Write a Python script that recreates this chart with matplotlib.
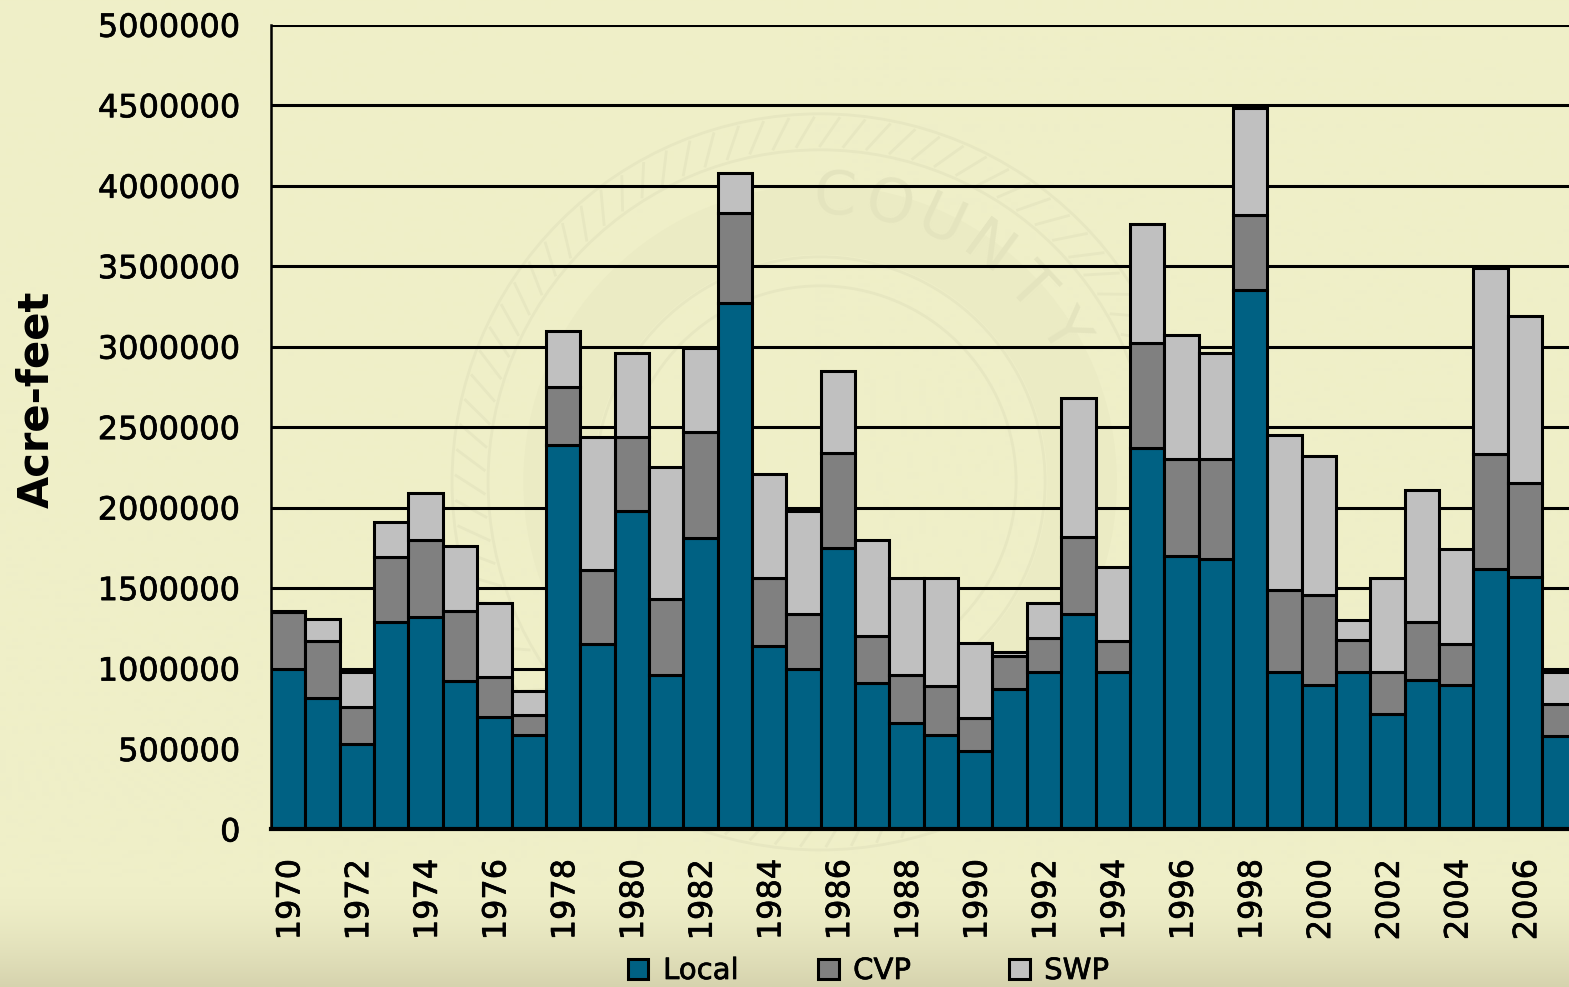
import numpy as np
import matplotlib.pyplot as plt
import matplotlib.patheffects as pe
from matplotlib.patches import Circle

years = list(range(1970, 2008))

# acre-feet
local = [1000000, 820000, 530000, 1290000, 1320000, 920000, 700000, 590000, 2390000, 1150000,
         1980000, 960000, 1810000, 3270000, 1140000, 1000000, 1750000, 910000, 660000, 590000,
         490000, 870000, 980000, 1340000, 980000, 2370000, 1700000, 1680000, 3350000, 980000,
         900000, 980000, 720000, 930000, 900000, 1620000, 1570000, 580000]
cvp = [350000, 350000, 230000, 400000, 480000, 440000, 250000, 120000, 360000, 460000,
       460000, 470000, 660000, 560000, 420000, 340000, 590000, 290000, 300000, 300000,
       200000, 210000, 210000, 480000, 190000, 650000, 600000, 620000, 470000, 510000,
       560000, 200000, 260000, 360000, 250000, 710000, 580000, 200000]
swp = [10000, 140000, 220000, 220000, 290000, 400000, 460000, 150000, 350000, 830000,
       520000, 820000, 520000, 250000, 650000, 640000, 510000, 600000, 600000, 670000,
       470000, 20000, 220000, 860000, 460000, 740000, 770000, 660000, 660000, 960000,
       860000, 120000, 580000, 820000, 590000, 1160000, 1040000, 200000]

y_ticks = [0, 500000, 1000000, 1500000, 2000000, 2500000, 3000000, 3500000, 4000000, 4500000, 5000000]
series_names = ['Local', 'CVP', 'SWP']
series_colors = ['#006183', '#808080', '#c0c0c0']

W, H = 1569, 987
fig = plt.figure(figsize=((W + 0.2) / 100, (H + 0.2) / 100), dpi=100)

# background: flat cream fading to a duller tone at the bottom
bg = fig.add_axes([0, 0, 1, 1], zorder=0)
bg.set_xlim(0, W)
bg.set_ylim(H, 0)
bg.axis('off')
top_col = np.array([0xef, 0xef, 0xc8]) / 255
bot_col = np.array([0xd6, 0xd3, 0xae]) / 255
t = np.clip((np.linspace(0, 1, H) - 0.9) / 0.1, 0, 1) ** 1.5
grad = top_col[None, None, :] * (1 - t)[:, None, None] + bot_col[None, None, :] * t[:, None, None]
bg.imshow(grad, extent=(0, W, H, 0), aspect='auto')

# faint county seal behind the chart
seal = '#e7e7c1'
cx, cy = 820, 482
bg.add_patch(Circle((cx, cy), 262, fill=False, ec='#ebebc4', lw=50))
for r, lw in [(368, 2), (332, 2), (225, 2), (196, 2)]:
    bg.add_patch(Circle((cx, cy), r, fill=False, ec=seal, lw=lw))
# rope pattern of the seal's outer band
for ang in np.arange(0, 360, 4):
    a0, a1 = np.radians(ang), np.radians(ang + 3)
    bg.plot([cx + 336 * np.sin(a0), cx + 364 * np.sin(a1)],
            [cy - 336 * np.cos(a0), cy - 364 * np.cos(a1)], color=seal, lw=2)
for letter, ang in zip('COUNTY', [3, 14, 25, 36, 47, 58]):
    a = np.radians(ang)
    bg.text(cx + 285 * np.sin(a), cy - 285 * np.cos(a), letter, fontsize=44, color='#e4e4be',
            rotation=-ang, ha='center', va='center')
bg.set_xlim(0, W)
bg.set_ylim(H, 0)

ax = fig.add_axes([271 / W, (H - 829.5) / H, (W - 271) / W, 804.5 / H], zorder=1)
ax.patch.set_alpha(0)

x = np.arange(len(years))
l_arr, c_arr, s_arr = np.array(local), np.array(cvp), np.array(swp)
b1 = ax.bar(x, l_arr, width=1, color=series_colors[0], edgecolor='black', linewidth=2.2, zorder=3)
b2 = ax.bar(x, c_arr, width=1, bottom=l_arr, color=series_colors[1], edgecolor='black', linewidth=2.2, zorder=3)
b3 = ax.bar(x, s_arr, width=1, bottom=l_arr + c_arr, color=series_colors[2], edgecolor='black', linewidth=2.2, zorder=3)

ax.set_xlim(-0.5, -0.5 + (W - 271) / 34.35)
ax.set_ylim(0, 5000000)
ax.yaxis.grid(True, color='black', linewidth=2.2, zorder=1)
ax.set_axisbelow(True)
for side in ['top', 'right']:
    ax.spines[side].set_visible(False)
ax.spines['left'].set_linewidth(1.8)
ax.spines['bottom'].set_linewidth(3)
ax.spines['bottom'].set_zorder(5)

stroke = [pe.withStroke(linewidth=0.5, foreground='black')]
ax.set_yticks(y_ticks)
ax.set_yticklabels([str(v) for v in y_ticks], fontsize=23, path_effects=stroke)
ax.set_xticks(x[::2] + 0.08)
ax.set_xticklabels([str(y) for y in years[::2]], rotation=90, fontsize=23, path_effects=stroke)
ax.tick_params(axis='y', length=0, pad=22)
ax.tick_params(axis='x', length=0, pad=21)

fig.text(36 / W, 1 - 399 / H, 'Acre-feet', rotation=90, fontsize=30, fontweight='bold',
         ha='center', va='center')

# legend entries are spaced evenly, so one small legend per series
for bars, name, left in zip([b1, b2, b3], series_names, [628, 818, 1009]):
    leg = fig.legend(handles=[bars], labels=[name], loc='center left',
                     bbox_to_anchor=(left / W, 1 - 971 / H), frameon=False, fontsize=21,
                     borderpad=0, borderaxespad=0, handlelength=0.7, handleheight=0.7, handletextpad=0.5)
    for txt in leg.get_texts():
        txt.set_path_effects(stroke)

fig.savefig('out.png', dpi=100)
